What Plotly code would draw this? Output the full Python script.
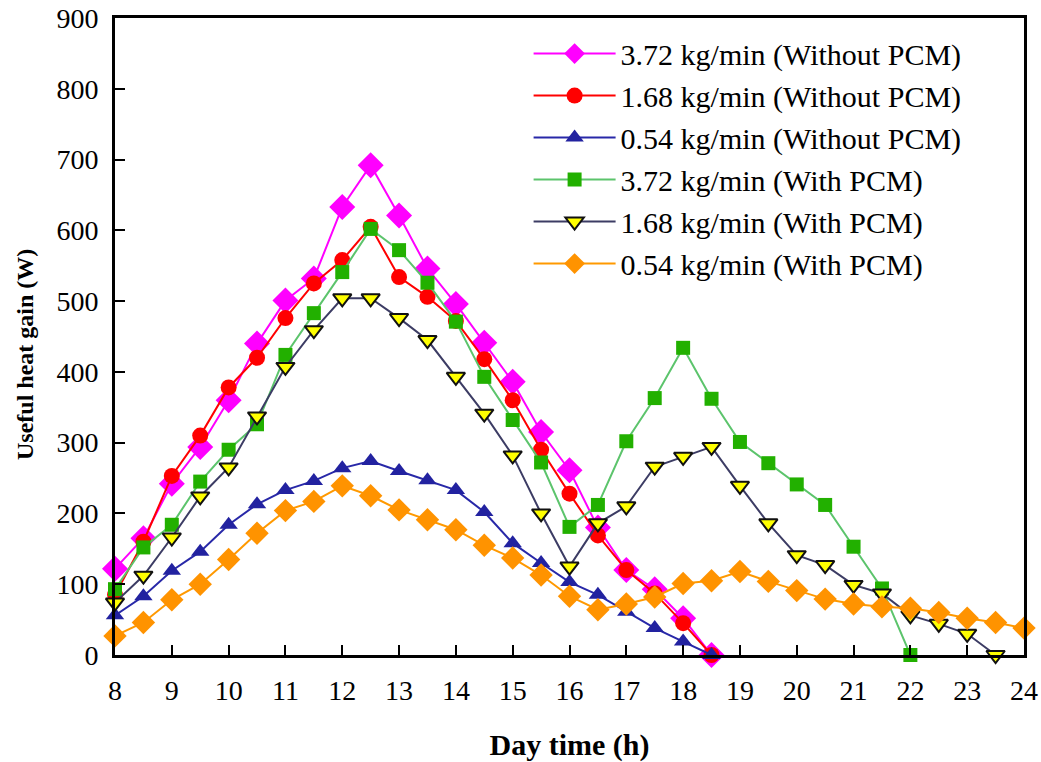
import plotly.graph_objects as go

hours = [8 + 0.5 * i for i in range(33)]  # 8.0 .. 24.0

m372_wo = [122, 165, 242, 294, 360, 440, 501, 532, 633, 692, 621, 546, 496, 441, 386, 315, 261, 180, 120, 93, 52, 0]
m168_wo = [85, 160, 253, 310, 378, 420, 476, 525, 558, 605, 534, 506, 472, 418, 360, 290, 228, 169, 120, 87, 45, 0]
m054_wo = [56, 83, 119, 146, 184, 213, 233, 246, 264, 274, 260, 247, 233, 202, 158, 130, 103, 85, 61, 38, 19, 0]
m372_w = [93, 152, 184, 245, 290, 326, 424, 483, 541, 602, 572, 526, 471, 393, 332, 272, 181, 212, 302, 363, 434, 362,
          301, 271, 241, 212, 153, 94, 0]
m168_w = [74, 112, 166, 224, 265, 337, 407, 459, 504, 504, 476, 445, 393, 341, 282, 200, 125, 186, 210, 266, 280, 294,
          239, 186, 141, 127, 99, 87, 56, 44, 30, 0]
m054_w = [27, 46, 78, 100, 135, 172, 204, 217, 239, 225, 205, 191, 177, 155, 137, 113, 83, 64, 72, 82, 101, 105,
          118, 104, 91, 79, 72, 68, 66, 60, 52, 46, 38]

names = ["3.72 kg/min (Without PCM)", "1.68 kg/min (Without PCM)", "0.54 kg/min (Without PCM)",
         "3.72 kg/min (With PCM)", "1.68 kg/min (With PCM)", "0.54 kg/min (With PCM)"]
series = [m372_wo, m168_wo, m054_wo, m372_w, m168_w, m054_w]
line_colors = ["#FF00FF", "#FF0000", "#2828A8", "#5CC46C", "#3C3C64", "#FF9900"]
marker_fill = ["#FF00FF", "#FF0000", "#2222A0", "#22B000", "#FFFF00", "#FF9300"]
marker_sym = ["diamond", "circle", "triangle-up", "square", "triangle-down", "diamond"]
marker_size = [20, 16, 16, 14, 16, 18]
marker_line = [dict(width=0), dict(width=0), dict(width=0), dict(width=0),
               dict(width=2, color="#111111"), dict(width=0)]

fig = go.Figure()
for name, ys, lc, mf, ms, sz, ml in zip(names, series, line_colors, marker_fill, marker_sym, marker_size, marker_line):
    fig.add_trace(go.Scatter(
        x=hours[:len(ys)], y=ys, name=name, mode="lines+markers",
        line=dict(color=lc, width=2),
        marker=dict(symbol=ms, size=sz, color=mf, line=ml),
        cliponaxis=False,
    ))

font_family = "Liberation Serif, Times New Roman, serif"
fig.update_layout(
    width=1041, height=762,
    margin=dict(l=115, r=17, t=18, b=107),
    plot_bgcolor="white", paper_bgcolor="white",
    font=dict(family=font_family, size=22, color="black"),
    showlegend=True,
    legend=dict(x=0.455, y=0.985, xanchor="left", yanchor="top",
                font=dict(family=font_family, size=30, color="black"),
                bgcolor="rgba(0,0,0,0)", itemwidth=82, tracegroupgap=0),
    xaxis=dict(range=[8, 24], tickmode="array", tickvals=list(range(8, 25)),
               ticks="inside", ticklen=10, tickwidth=2, tickcolor="black",
               showline=True, linecolor="black", linewidth=3, mirror=True,
               showgrid=False, zeroline=False, automargin=False, ticklabelstandoff=8,
               ticklabeloverflow="allow",
               tickfont=dict(family=font_family, size=28),
               title=dict(text="<b>Day time (h)</b>", font=dict(family=font_family, size=30), standoff=30)),
    yaxis=dict(range=[0, 900], tickmode="array", tickvals=list(range(0, 901, 100)),
               ticks="inside", ticklen=10, tickwidth=2, tickcolor="black",
               showline=True, linecolor="black", linewidth=3, mirror=True,
               showgrid=False, zeroline=False, automargin=False, ticklabelstandoff=8,
               ticklabeloverflow="allow",
               tickfont=dict(family=font_family, size=28)),
    annotations=[dict(text="<b>Useful heat gain (W)</b>", xref="paper", yref="paper",
                      x=-0.099, y=0.471, xanchor="center", yanchor="middle", textangle=-90,
                      showarrow=False, font=dict(family=font_family, size=24, color="black"))],
)

fig.write_html("out.html", post_script="document.body.style.margin='0';",
               config={"displayModeBar": False})
